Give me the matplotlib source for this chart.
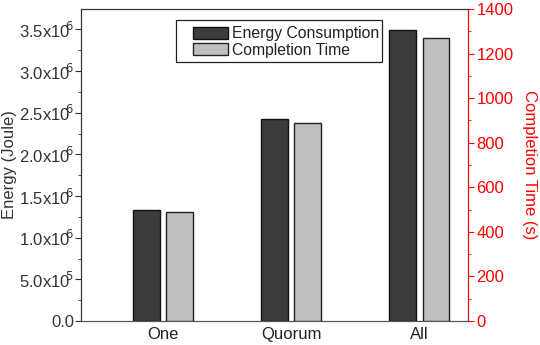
# energy vs completion time bar chart (twin y axes)
import numpy as np
import matplotlib
matplotlib.use('Agg')
import matplotlib.pyplot as plt
from matplotlib.patches import Rectangle
from matplotlib.ticker import MultipleLocator, FuncFormatter

# data
categories = ['One', 'Quorum', 'All']
energy = [1.33e6, 2.43e6, 3.49e6]
completion = [490, 887, 1271]

plt.rcParams['font.family'] = ['Liberation Sans', 'DejaVu Sans']
plt.rcParams['font.size'] = 12

W, H = 540, 345
fig = plt.figure(figsize=(5.4, 3.45), dpi=100)
ax1 = fig.add_axes([81 / W, 1 - 321 / H, 387 / W, 312 / H])
ax2 = ax1.twinx()

x = np.arange(len(categories))
w = 0.21
dark = '#3c3c3c'
light = '#c0c0c0'
b1 = ax1.bar(x - 0.13, energy, w, color=dark, edgecolor='#111111', linewidth=1.0)
b2 = ax2.bar(x + 0.13, completion, w, color=light, edgecolor='#222222', linewidth=1.0)

ax1.set_xlim(-0.64, 2.38)
ax1.set_ylim(0, 3.745e6)
ax2.set_ylim(0, 1400)
ax1.set_xticks(x)
ax1.set_xticklabels(categories, color='#222222')
ax1.tick_params(axis='x', length=0, pad=4)


def sci(v, pos):
    if v <= 0:
        return '0.0'
    exp = int(np.floor(np.log10(v)))
    return f'{v / 10**exp:.1f}x10$^{{\\!\\!{exp}}}$'


ax1.yaxis.set_major_locator(MultipleLocator(0.5e6))
ax1.yaxis.set_minor_locator(MultipleLocator(0.25e6))
ax1.yaxis.set_major_formatter(FuncFormatter(sci))
ax1.tick_params(axis='y', which='major', length=4, colors='#333333', pad=1)
ax1.tick_params(axis='y', which='minor', length=2, color='#333333')
ax1.set_ylabel('Energy (Joule)', color='#333333')
ax1.yaxis.label.set_va('center')
ax1.yaxis.set_label_coords(-0.186, 0.5)

red = '#ff0000'
ax2.yaxis.set_major_locator(MultipleLocator(200))
ax2.yaxis.set_minor_locator(MultipleLocator(100))
ax2.tick_params(axis='y', which='major', length=4, colors=red, pad=2)
ax2.tick_params(axis='y', which='minor', length=2, color=red)
ax2.set_ylabel('Completion Time (s)', color=red, rotation=270)
ax2.yaxis.label.set_va('center')
ax2.yaxis.set_label_coords(1.16, 0.5)

for a in (ax1, ax2):
    a.spines['top'].set_color('#333333')
    a.spines['bottom'].set_color('#555555')
    a.spines['left'].set_color('#333333')
ax2.spines['right'].set_color(red)

# legend without its own frame, frame drawn separately (wider left margin as in the reference)
leg = ax1.legend([b1, b2], ['Energy Consumption', 'Completion Time'],
                 loc='upper left', bbox_to_anchor=(193 / W, 1 - 26 / H),
                 bbox_transform=fig.transFigure, frameon=False, fontsize=11.3,
                 handlelength=2.2, handleheight=0.8, handletextpad=0.3,
                 borderpad=0.0, labelspacing=0.12, borderaxespad=0)
for t in leg.get_texts():
    t.set_color('#222222')
fig.patches.append(Rectangle((176 / W, 1 - 62 / H), 206 / W, 42 / H,
                             transform=fig.transFigure, fill=False,
                             edgecolor='#222222', linewidth=0.9))

fig.savefig('out.png', dpi=100)
